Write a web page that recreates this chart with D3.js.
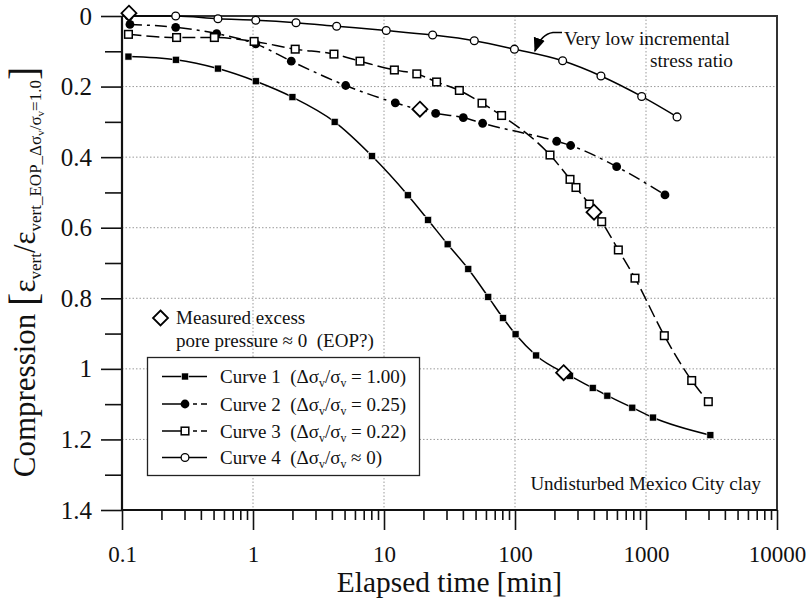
<!DOCTYPE html>
<html>
<head>
<meta charset="utf-8">
<script src="https://cdn.jsdelivr.net/npm/d3@7"></script>
<style>
  html, body { margin: 0; padding: 0; background: #fff; }
  svg { display: block; }
  text { font-family: "Liberation Serif", "DejaVu Serif", serif; fill: #111; white-space: pre; }
</style>
</head>
<body>
<svg id="chart" width="811" height="602"></svg>
<script>
// Consolidation curves: elapsed time [min] vs normalised compression
const curve1Time = [0.112, 0.258, 0.54, 1.05, 2.0, 4.2, 8.1, 15.2, 21.7, 30.6, 44, 62.5, 81, 101, 145, 263, 392, 507, 786, 1130, 3100];
const curve1Comp = [0.115, 0.124, 0.149, 0.185, 0.230, 0.300, 0.397, 0.508, 0.578, 0.647, 0.717, 0.796, 0.856, 0.902, 0.962, 1.020, 1.054, 1.076, 1.110, 1.138, 1.188];

const curve2Time = [0.115, 0.257, 0.528, 1.05, 1.96, 5.1, 12.2, 24.8, 40.3, 56.6, 208, 266, 597, 1396];
const curve2Comp = [0.024, 0.032, 0.050, 0.079, 0.128, 0.197, 0.246, 0.276, 0.288, 0.304, 0.355, 0.367, 0.427, 0.507];

const curve3Time = [0.112, 0.261, 0.507, 1.02, 2.1, 4.15, 6.56, 12.0, 17.8, 25.2, 37.6, 56, 79, 185, 263, 292, 369, 459, 615, 824, 1380, 2233, 2990];
const curve3Comp = [0.052, 0.061, 0.061, 0.072, 0.094, 0.108, 0.128, 0.153, 0.164, 0.187, 0.211, 0.247, 0.282, 0.394, 0.463, 0.486, 0.533, 0.583, 0.663, 0.743, 0.906, 1.033, 1.093];

const curve4Time = [0.113, 0.257, 0.54, 1.05, 2.13, 4.35, 10.4, 23.5, 48.9, 99, 231, 453, 927, 1726];
const curve4Comp = [0.0, 0.0, 0.008, 0.012, 0.019, 0.029, 0.041, 0.054, 0.070, 0.094, 0.127, 0.170, 0.228, 0.286];

// Points where measured excess pore pressure ≈ 0
const eopTime = [0.113, 18.8, 401, 235];
const eopComp = [-0.008, 0.264, 0.556, 1.011];

const seriesNames = [
  "Curve 1  (Δσ|v|/σ|v| = 1.00)",
  "Curve 2  (Δσ|v|/σ|v| = 0.25)",
  "Curve 3  (Δσ|v|/σ|v| = 0.22)",
  "Curve 4  (Δσ|v|/σ|v| ≈ 0)"
];

const xTickValues = [0.1, 1, 10, 100, 1000, 10000];
const xTickLabels = ["0.1", "1", "10", "100", "1000", "10000"];
const yTickValues = [0, 0.2, 0.4, 0.6, 0.8, 1.0, 1.2, 1.4];
const yTickLabels = ["0", "0.2", "0.4", "0.6", "0.8", "1", "1.2", "1.4"];

const svg = d3.select("#chart");

const x = d3.scaleLog().domain([0.1, 10000]).range([122, 777]);
const y = d3.scaleLinear().domain([0, 1.4]).range([16, 510]);

// Gridlines (dotted)
const grid = svg.append("g").attr("stroke", "#9a9a9a").attr("stroke-width", 1).attr("stroke-dasharray", "1.5,2");
[1, 10, 100, 1000].forEach(v => {
  grid.append("line").attr("x1", x(v)).attr("x2", x(v)).attr("y1", y(0)).attr("y2", y(1.4));
});
[0.2, 0.4, 0.6, 0.8, 1.0, 1.2].forEach(v => {
  grid.append("line").attr("x1", x(0.1)).attr("x2", x(10000)).attr("y1", y(v)).attr("y2", y(v));
});

// Top and right frame
svg.append("path")
  .attr("d", `M${x(0.1)},${y(0)}H${x(10000)}V${y(1.4)}`)
  .attr("fill", "none").attr("stroke", "#333").attr("stroke-width", 2);

// X axis: decades with minor ticks
const minorX = [];
for (let d = 0.1; d < 10000; d *= 10) {
  for (let k = 2; k <= 9; k++) minorX.push(+(d * k).toPrecision(3));
}
const xAxisMinor = d3.axisBottom(x).tickValues(minorX).tickSize(10).tickFormat("");
const xAxis = d3.axisBottom(x).tickValues(xTickValues).tickSize(20).tickPadding(16)
  .tickFormat((d, i) => xTickLabels[i]);

const gxMinor = svg.append("g").attr("transform", `translate(0,${y(1.4)})`).call(xAxisMinor);
const gx = svg.append("g").attr("transform", `translate(0,${y(1.4)})`).call(xAxis);
[gxMinor, gx].forEach(g => {
  g.select(".domain").remove();
  g.selectAll(".tick line").attr("stroke", "#111").attr("stroke-width", 1.6);
});
gx.selectAll(".tick text").attr("font-size", 23).attr("fill", "#111")
  .style("font-family", '"Liberation Serif", serif');

// Y axis: major and minor ticks
const minorY = [0.1, 0.3, 0.5, 0.7, 0.9, 1.1, 1.3];
const yAxisMinor = d3.axisLeft(y).tickValues(minorY).tickSize(17).tickFormat("");
const yAxis = d3.axisLeft(y).tickValues(yTickValues).tickSize(21).tickPadding(9)
  .tickFormat((d, i) => yTickLabels[i]);
const gyMinor = svg.append("g").attr("transform", `translate(${x(0.1)},0)`).call(yAxisMinor);
const gy = svg.append("g").attr("transform", `translate(${x(0.1)},0)`).call(yAxis);
[gyMinor, gy].forEach(g => {
  g.select(".domain").remove();
  g.selectAll(".tick line").attr("stroke", "#111").attr("stroke-width", 1.6);
});
gy.selectAll(".tick text").attr("font-size", 25).attr("fill", "#111")
  .style("font-family", '"Liberation Serif", serif');

// Axis lines
svg.append("line").attr("x1", x(0.1)).attr("x2", x(0.1)).attr("y1", y(0)).attr("y2", y(1.4))
  .attr("stroke", "#111").attr("stroke-width", 2.2);
svg.append("line").attr("x1", x(0.1)).attr("x2", x(10000)).attr("y1", y(1.4)).attr("y2", y(1.4))
  .attr("stroke", "#111").attr("stroke-width", 2.2);

// Series
const series = [
  { t: curve1Time, c: curve1Comp, dash: null, marker: "sq-fill" },
  { t: curve2Time, c: curve2Comp, dash: "12,5,3,5", marker: "circ-fill" },
  { t: curve3Time, c: curve3Comp, dash: "13,5", marker: "sq-open" },
  { t: curve4Time, c: curve4Comp, dash: null, marker: "circ-open" }
];

const line = d3.line().x(d => x(d[0])).y(d => y(d[1])).curve(d3.curveMonotoneX);

function drawMarker(g, kind, cx, cy) {
  if (kind === "sq-fill") {
    g.append("rect").attr("x", cx - 3.5).attr("y", cy - 3.5).attr("width", 7).attr("height", 7)
      .attr("fill", "#000").attr("stroke", "#fff").attr("stroke-width", 0.6);
  } else if (kind === "sq-open") {
    g.append("rect").attr("x", cx - 3.8).attr("y", cy - 3.8).attr("width", 7.6).attr("height", 7.6)
      .attr("fill", "#fff").attr("stroke", "#000").attr("stroke-width", 1.5);
  } else if (kind === "circ-fill") {
    g.append("circle").attr("cx", cx).attr("cy", cy).attr("r", 4.4).attr("fill", "#000");
  } else if (kind === "circ-open") {
    g.append("circle").attr("cx", cx).attr("cy", cy).attr("r", 3.9)
      .attr("fill", "#fff").attr("stroke", "#000").attr("stroke-width", 1.3);
  }
}

function drawDiamond(g, cx, cy, r) {
  g.append("path")
    .attr("d", `M${cx},${cy - r}L${cx + r},${cy}L${cx},${cy + r}L${cx - r},${cy}Z`)
    .attr("fill", "#fff").attr("stroke", "#000").attr("stroke-width", 1.8);
}

const plot = svg.append("g");
series.forEach(s => {
  const pts = s.t.map((t, i) => [t, s.c[i]]);
  plot.append("path").datum(pts).attr("d", line)
    .attr("fill", "none").attr("stroke", "#000").attr("stroke-width", 1.5)
    .attr("stroke-dasharray", s.dash);
});
series.forEach(s => {
  const g = plot.append("g");
  s.t.forEach((t, i) => drawMarker(g, s.marker, x(t), y(s.c[i])));
});
const gEop = plot.append("g");
eopTime.forEach((t, i) => drawDiamond(gEop, x(t), y(eopComp[i]), 7.5));

// Legend
const legend = svg.append("g");
legend.append("rect").attr("x", 147.5).attr("y", 357.5).attr("width", 272).attr("height", 118)
  .attr("fill", "#fff").attr("stroke", "#222").attr("stroke-width", 1.3);
const rowY = [376.5, 404, 431, 457.5];
function subText(sel, str, size) {
  // "|v|" marks a subscript v
  const parts = str.split("|");
  parts.forEach((p, i) => {
    if (i % 2 === 1) {
      sel.append("tspan").attr("font-size", size * 0.62).attr("dy", size * 0.22).text(p);
    } else {
      const ts = sel.append("tspan").text(p);
      if (i > 0) ts.attr("dy", -size * 0.22);
    }
  });
}
series.forEach((s, i) => {
  const ly = rowY[i];
  legend.append("line").attr("x1", 162).attr("x2", 207).attr("y1", ly).attr("y2", ly)
    .attr("stroke", "#000").attr("stroke-width", 1.5)
    .attr("stroke-dasharray", s.dash ? "27,4,4,4" : null);
  drawMarker(legend, s.marker, 185, ly);
  const t = legend.append("text").attr("x", 220).attr("y", ly + 6.5).attr("font-size", 19);
  subText(t, seriesNames[i], 19);
});

// EOP note
drawDiamond(svg.append("g"), 160.5, 318, 7.5);
svg.append("text").attr("x", 176).attr("y", 324).attr("font-size", 19).text("Measured excess");
svg.append("text").attr("x", 176).attr("y", 346.5).attr("font-size", 19).text("pore pressure ≈ 0  (EOP?)");

// Annotations
svg.append("text").attr("x", 564).attr("y", 45).attr("font-size", 19.3).text("Very low incremental");
svg.append("text").attr("x", 733).attr("y", 67).attr("font-size", 19.3).attr("text-anchor", "end").text("stress ratio");
svg.append("defs").append("marker")
  .attr("id", "arrowhead").attr("viewBox", "0 0 10 10").attr("refX", 9).attr("refY", 5)
  .attr("markerWidth", 9).attr("markerHeight", 9).attr("orient", "auto-start-reverse")
  .append("path").attr("d", "M0,1L10,5L0,9Z").attr("fill", "#000");
svg.append("path").attr("d", "M562,32.5H553Q541,34 535,51")
  .attr("fill", "none").attr("stroke", "#000").attr("stroke-width", 1.6)
  .attr("marker-end", "url(#arrowhead)");

svg.append("text").attr("x", 761).attr("y", 489.5).attr("font-size", 19)
  .attr("text-anchor", "end").text("Undisturbed Mexico City clay");

// Axis titles
svg.append("text").attr("x", (x(0.1) + x(10000)) / 2).attr("y", 592)
  .attr("text-anchor", "middle").attr("font-size", 29.4).text("Elapsed time [min]");

const yt = svg.append("text").attr("transform", "translate(35,272) rotate(-90)")
  .attr("text-anchor", "middle").attr("font-size", 31);
yt.append("tspan").text("Compression ");
yt.append("tspan").attr("font-size", 40).attr("dy", 2).text("[");
yt.append("tspan").attr("dy", -2).text("ε");
yt.append("tspan").attr("font-size", 17).attr("dy", 6).text("vert");
yt.append("tspan").attr("font-size", 31).attr("dy", -6).text("/ε");
yt.append("tspan").attr("font-size", 17).attr("dy", 6).text("vert_EOP_Δσ");
yt.append("tspan").attr("font-size", 11).attr("dy", 3).text("v");
yt.append("tspan").attr("font-size", 17).attr("dy", -3).text("/σ");
yt.append("tspan").attr("font-size", 11).attr("dy", 3).text("v");
yt.append("tspan").attr("font-size", 17).attr("dy", -3).text("=1.0");
yt.append("tspan").attr("font-size", 40).attr("dy", -4).text("]");
</script>
</body>
</html>
